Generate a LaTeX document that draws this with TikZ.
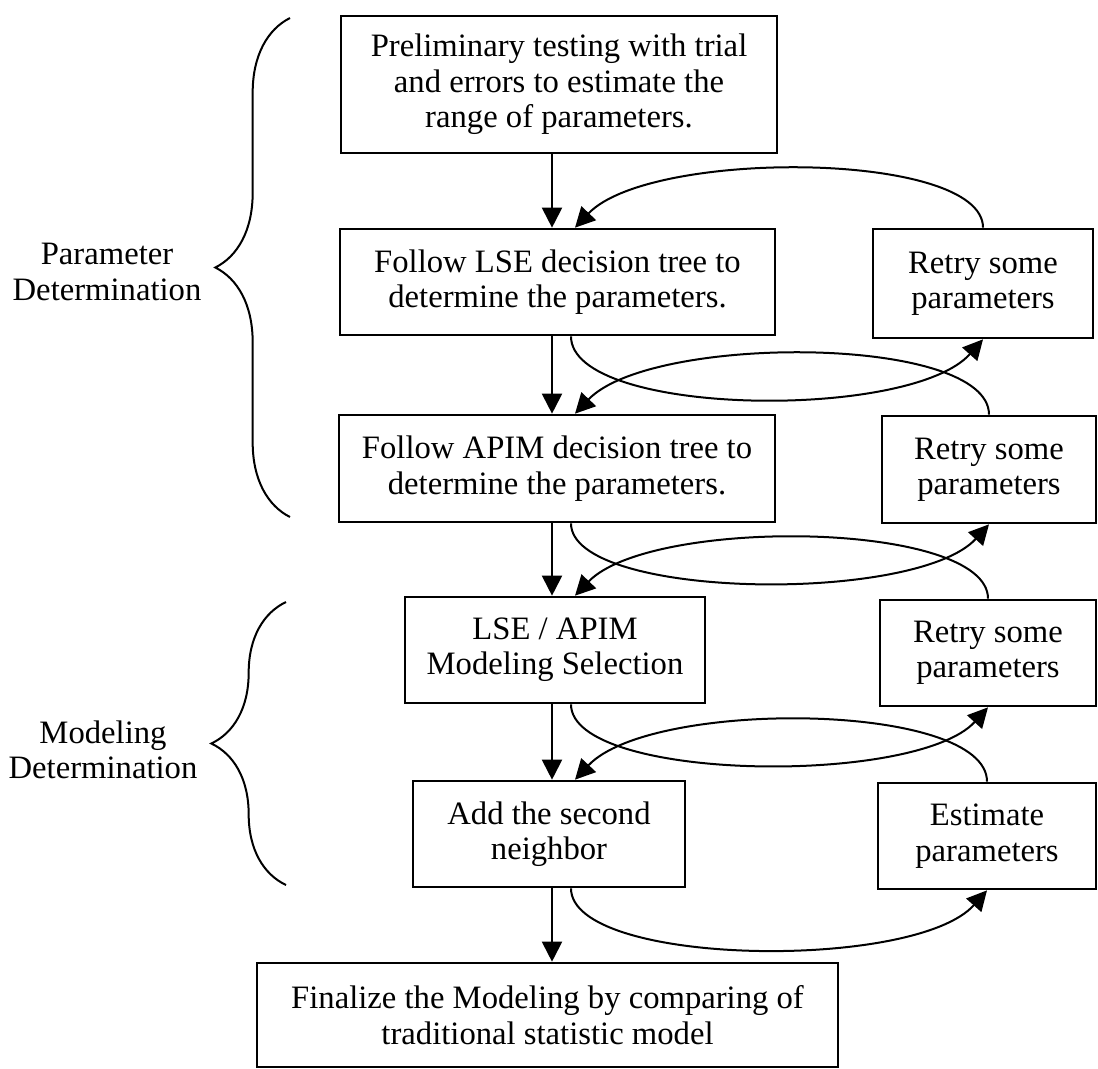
\documentclass[tikz,border=0pt]{standalone}
\usepackage{fontspec}
\setmainfont{Liberation Serif}
\usepackage{tikz}
\usetikzlibrary{arrows.meta,decorations.pathreplacing}

\begin{document}
\begin{tikzpicture}[x=0.75pt,y=0.75pt,yscale=-1,xscale=1,
    stepbox/.style={draw,line width=2pt,inner sep=0.75pt,align=center,font=\fontsize{24.5}{26.5}\selectfont},
    side/.style={inner sep=0.75pt,align=center,font=\fontsize{24.5}{26.5}\selectfont},
    arr/.style={line width=1.5pt,-{Triangle[length=15pt,width=15pt]}},
    grp/.style={line width=1.5pt,decorate,decoration={brace,amplitude=56pt}}]
        \useasboundingbox (0,0) rectangle (1098,1068);
        % main column
        \draw (559,84.5) node [stepbox,minimum width=327pt,minimum height=102.75pt] (prelim) {Preliminary testing with trial\\and errors to estimate the\\range of parameters.};
        \draw (557.5,282) node [stepbox,minimum width=326.25pt,minimum height=79.5pt] (lse) {Follow LSE decision tree to\\determine the parameters.};
        \draw (557,468.5) node [stepbox,minimum width=327pt,minimum height=80.25pt] (apim) {Follow APIM decision tree to\\determine the parameters.};
        \draw (555,650) node [stepbox,minimum width=225pt,minimum height=79.5pt] (select) {LSE / APIM\\Modeling Selection};
        \draw (549,834) node [stepbox,minimum width=204pt,minimum height=79.5pt] (neighbor) {Add the second\\neighbor};
        \draw (547.5,1015) node [stepbox,minimum width=435.75pt,minimum height=78pt] (final) {Finalize the Modeling by comparing of\\traditional statistic model};
        % retry column
        \draw (983,283.5) node [stepbox,minimum width=165pt,minimum height=81.75pt] (retryA) {Retry some\\parameters};
        \draw (989,469.5) node [stepbox,minimum width=160.5pt,minimum height=80.25pt] (retryB) {Retry some\\parameters};
        \draw (988,653) node [stepbox,minimum width=162pt,minimum height=79.5pt] (retryC) {Retry some\\parameters};
        \draw (987,836) node [stepbox,minimum width=163.5pt,minimum height=79.5pt] (estimate) {Estimate\\parameters};
        % group labels
        \draw (107,272) node [side] (paramlbl) {Parameter\\Determination};
        \draw (103,750) node [side] (modellbl) {Modeling\\Determination};
        \draw [grp] (290,517) -- (290,18);
        \draw [grp] (286,885) -- (286,602);
        % arrows down the column
        \coordinate (spine) at (552,0);
        \coordinate (inx) at (575,0);
        \coordinate (outx) at (571,0);
        \draw [arr] (prelim.south -| spine) -- (lse.north -| spine);
        \draw [arr] (lse.south -| spine) -- (apim.north -| spine);
        \draw [arr] (apim.south -| spine) -- (select.north -| spine);
        \draw [arr] (select.south -| spine) -- (neighbor.north -| spine);
        \draw [arr] (neighbor.south -| spine) -- (final.north -| spine);
        % retry loops
        \draw [arr] (retryA.north) .. controls +(0,-77) and +(75,-79) .. (lse.north -| inx);
        \draw [arr] (lse.south -| outx) .. controls +(0,80) and +(-73,82) .. (retryA.south);
        \draw [arr] (retryB.north) .. controls +(0,-80) and +(76,-80) .. (apim.north -| inx);
        \draw [arr] (apim.south -| outx) .. controls +(0,76) and +(-73,80) .. (retryB.south);
        \draw [arr] (retryC.north) .. controls +(0,-78) and +(76,-79) .. (select.north -| inx);
        \draw [arr] (select.south -| outx) .. controls +(0,77) and +(-72,79) .. (retryC.south);
        \draw [arr] (estimate.north) .. controls +(0,-80) and +(76,-81) .. (neighbor.north -| inx);
        \draw [arr] (neighbor.south -| outx) .. controls +(0,78) and +(-72,81) .. (estimate.south);
\end{tikzpicture}
\end{document}
